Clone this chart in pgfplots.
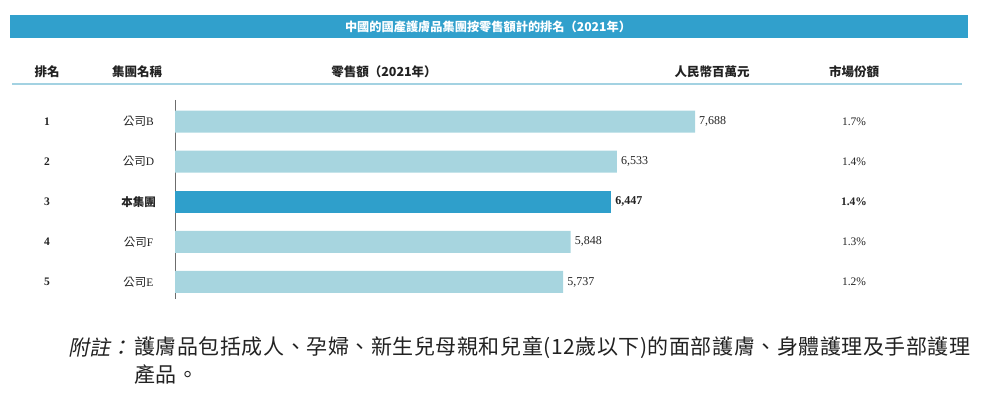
\documentclass[border=0pt]{standalone}
\usepackage{fontspec}
\usepackage{pgfplots}
\pgfplotsset{compat=1.18}
\setmainfont{Liberation Serif}
\newfontfamily\cjk{Noto Sans CJK TC}
\newfontfamily\cjkit[FakeSlant=0.2]{Noto Sans CJK TC}
\newfontfamily\cjknote[LetterSpace=2.6]{Noto Sans CJK TC}
\definecolor{hdr}{HTML}{31A0CC}
\definecolor{barlt}{HTML}{A7D5DF}
\definecolor{bardk}{HTML}{2F9FCB}
\definecolor{rule}{HTML}{A3D2E2}
\definecolor{txt}{HTML}{222222}
\newcommand{\fs}[1]{\fontsize{#1}{#1}\selectfont}
\begin{document}
\begin{tikzpicture}[x=1pt,y=1pt,text=txt]
\path[use as bounding box] (0,0) rectangle (1000,401);
% title bar
\fill[hdr] (10,363) rectangle (968,386);
\node[text=white,font=\cjk\bfseries\fs{12.2}] at (488,374.5) {中國的國產護膚品集團按零售額計的排名（2021年）};
% column headings
\begin{scope}[every node/.style={font=\cjk\bfseries\fs{12.5}}]
\node at (47,329.5) {排名};
\node at (137,329.5) {集團名稱};
\node at (384,329.5) {零售額（2021年）};
\node at (712,329.5) {人民幣百萬元};
\node at (854,329.5) {市場份額};
\end{scope}
\draw[rule,line width=1.6pt] (12,317) -- (962,317);
\begin{axis}[
  at={(175pt,102pt)}, anchor=south west,
  scale only axis,
  width=676.4pt, height=199pt,
  xmin=0, xmax=10000,
  ymin=0.464, ymax=5.424,
  y dir=reverse,
  axis x line=none,
  axis y line=left,
  axis line style={-, draw=gray!85!black, line width=0.9pt},
  xbar, bar width=22pt, bar shift=0pt,
  ytick={1,2,3,4,5},
  yticklabels={{\cjk 公司}B,{\cjk 公司}D,{\cjk\bfseries 本集團},{\cjk 公司}F,{\cjk 公司}E},
  major tick length=0pt,
  yticklabel style={anchor=center, xshift=-36.5pt, font=\fs{11.5}, text=txt},
  clip=false,
  nodes near coords,
  /pgf/number format/.cd, 1000 sep={,}, assume math mode=true,
  /pgfplots/.cd,
  nodes near coords style={anchor=west, inner sep=0pt, xshift=4pt, font=\fs{12}, text=txt},
]
\addplot[draw=none, fill=barlt] coordinates {(7688,1) (6533,2) (5848,4) (5737,5)};
\addplot[draw=none, fill=bardk, nodes near coords style={font=\bfseries\fs{12}}] coordinates {(6447,3)};
\end{axis}
% rank and market share columns
\begin{scope}[every node/.style={font=\fs{11.5}}]
\node[font=\bfseries\fs{11.5}] at (47,279.5) {1};
\node[font=\bfseries\fs{11.5}] at (47,239.4) {2};
\node[font=\bfseries\fs{11.5}] at (47,199.25) {3};
\node[font=\bfseries\fs{11.5}] at (47,159.1) {4};
\node[font=\bfseries\fs{11.5}] at (47,119) {5};
\node at (854,279.5) {1.7\%};
\node at (854,239.4) {1.4\%};
\node[font=\bfseries\fs{11.5}] at (854,199.25) {1.4\%};
\node at (854,159.1) {1.3\%};
\node at (854,119) {1.2\%};
\end{scope}
% note
\node[anchor=west,inner sep=0pt,font=\cjkit\fs{21}] at (68,53) {附註：};
\node[anchor=west,inner sep=0pt,font=\cjknote\fs{21}] at (134,53) {護膚品包括成人、孕婦、新生兒母親和兒童(12歲以下)的面部護膚、身體護理及手部護理};
\node[anchor=west,inner sep=0pt,font=\cjknote\fs{21}] at (134,26) {產品。};
\end{tikzpicture}
\end{document}
